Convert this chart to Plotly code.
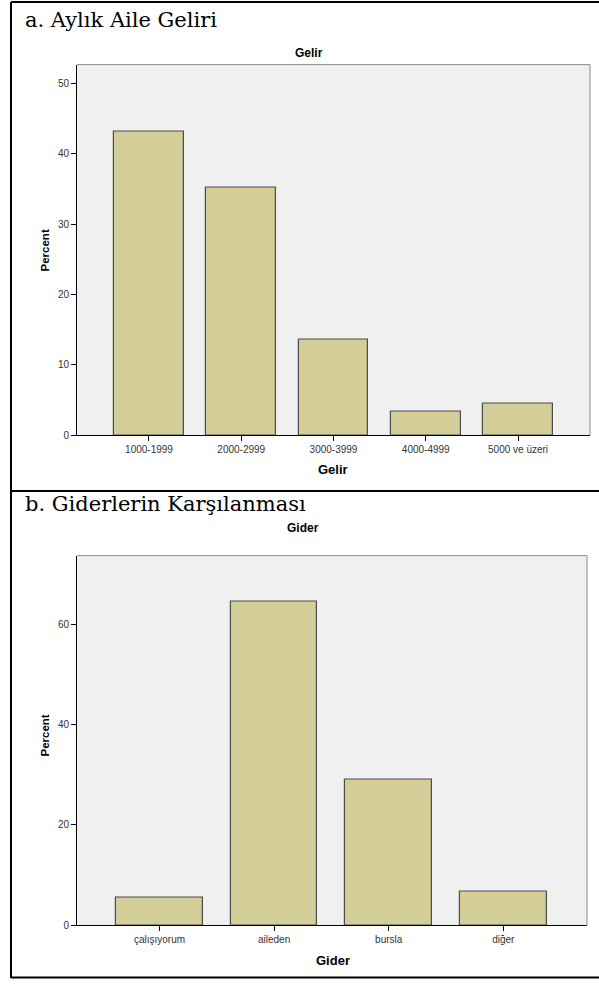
import plotly.graph_objects as go

W, H = 599, 985

gelir_cats = ["1000-1999", "2000-2999", "3000-3999", "4000-4999", "5000 ve üzeri"]
gelir_pct = [43.2, 35.2, 13.6, 3.4, 4.5]
gelir_ticks = [0, 10, 20, 30, 40, 50]

gider_cats = ["çalışıyorum", "aileden", "bursla", "diğer"]
gider_pct = [5.6, 64.5, 29.0, 6.7]
gider_ticks = [0, 20, 40, 60]

BAR_FILL = "#D3CE98"
BAR_LINE = "#4B4B4B"
PLOT_BG = "#F0F0F0"
SANS = "Liberation Sans, Arial, sans-serif"
SERIF = "DejaVu Serif, Liberation Serif, serif"


def px(x):
    return x / W


def py(y):
    return 1 - y / H


fig = go.Figure()
fig.add_trace(go.Bar(x=list(range(len(gelir_cats))), y=gelir_pct, width=0.755,
                     marker=dict(color=BAR_FILL, line=dict(color=BAR_LINE, width=1.2)),
                     xaxis="x", yaxis="y", showlegend=False, hoverinfo="skip"))
fig.add_trace(go.Bar(x=list(range(len(gider_cats))), y=gider_pct, width=0.755,
                     marker=dict(color=BAR_FILL, line=dict(color=BAR_LINE, width=1.2)),
                     xaxis="x2", yaxis="y2", showlegend=False, hoverinfo="skip"))

# panel geometry (pixels)
A = dict(l=77, r=590, t=65, b=438)
B = dict(l=77, r=587, t=559, b=931)

axis_common = dict(showgrid=False, zeroline=False, showline=True, linecolor="black",
                   linewidth=1, ticks="outside", ticklen=5, tickcolor="black",
                   tickfont=dict(family=SANS, size=10, color="#333333"), fixedrange=True)

fig.update_layout(
    width=W, height=H, margin=dict(l=0, r=0, t=0, b=0), autosize=False,
    paper_bgcolor="white", plot_bgcolor=PLOT_BG, bargap=0,
    xaxis=dict(domain=[px(A["l"]), px(A["r"])], range=[-0.78, 4.78], anchor="y",
               tickmode="array", tickvals=list(range(len(gelir_cats))), ticktext=gelir_cats,
               **axis_common),
    yaxis=dict(domain=[py(A["b"]), py(A["t"])], range=[0, 52.7], anchor="x",
               tickmode="array", tickvals=gelir_ticks, **axis_common),
    xaxis2=dict(domain=[px(B["l"]), px(B["r"])], range=[-0.72, 3.73], anchor="y2",
                tickmode="array", tickvals=list(range(len(gider_cats))), ticktext=gider_cats,
                **axis_common),
    yaxis2=dict(domain=[py(B["b"]), py(B["t"])], range=[0, 73.7], anchor="x2",
                tickmode="array", tickvals=gider_ticks, **axis_common),
)

shapes = []
# grey frame top & right of each plot
for P in (A, B):
    shapes.append(dict(type="line", xref="paper", yref="paper", x0=px(P["l"]), x1=px(P["r"]),
                       y0=py(P["t"]), y1=py(P["t"]), line=dict(color="#8A8A8A", width=1)))
    shapes.append(dict(type="line", xref="paper", yref="paper", x0=px(P["r"]), x1=px(P["r"]),
                       y0=py(P["t"]), y1=py(P["b"]), line=dict(color="#8A8A8A", width=1)))
# outer black box lines
blk = dict(color="black", width=2)
shapes.append(dict(type="line", xref="paper", yref="paper", x0=px(11), x1=1, y0=py(2), y1=py(2), line=blk))
shapes.append(dict(type="line", xref="paper", yref="paper", x0=px(11), x1=px(11), y0=py(2), y1=py(984), line=blk))
shapes.append(dict(type="line", xref="paper", yref="paper", x0=px(11), x1=1, y0=py(494), y1=py(494), line=blk))
shapes.append(dict(type="line", xref="paper", yref="paper", x0=px(11), x1=1, y0=py(983.5), y1=py(983.5), line=blk))
fig.update_layout(shapes=shapes)


def ann(text, x, y, size, family=SANS, bold=False, angle=0, xanchor="center", color="black"):
    t = f"<b>{text}</b>" if bold else text
    fig.add_annotation(text=t, x=px(x), y=py(y), xref="paper", yref="paper", showarrow=False,
                       xanchor=xanchor, yanchor="middle", textangle=angle,
                       font=dict(family=family, size=size, color=color))


ann("a. Aylık Aile Geliri", 23, 20, 21, family=SERIF, xanchor="left")
ann("b. Giderlerin Karşılanması", 23, 507, 21, family=SERIF, xanchor="left")
ann("Gelir", 309, 53, 12, bold=True)
ann("Gider", 303, 531, 12, bold=True)
ann("Percent", 45, 252, 11.5, bold=True, angle=-90)
ann("Percent", 45, 740, 11.5, bold=True, angle=-90)
ann("Gelir", 333, 472, 13, bold=True)
ann("Gider", 333, 966, 13, bold=True)

css_js = (
    "var d=document.documentElement,b=document.body;"
    "d.style.margin='0';d.style.padding='0';d.style.overflow='hidden';d.style.height='985px';"
    "b.style.margin='0';b.style.padding='0';b.style.overflow='hidden';b.style.height='985px';"
    "b.style.lineHeight='0';"
)
fig.write_html("out.html", config={"displayModeBar": False}, post_script=css_js)
